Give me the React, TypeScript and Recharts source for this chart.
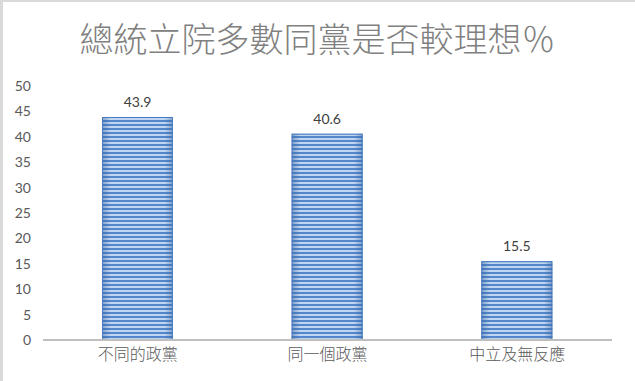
import { BarChart, Bar, XAxis, YAxis, LabelList } from "recharts";

const categories = ["不同的政黨", "同一個政黨", "中立及無反應"];
const percents = [43.9, 40.6, 15.5];
const yTicks = [0, 5, 10, 15, 20, 25, 30, 35, 40, 45, 50];

const data = categories.map((name, i) => ({ name, value: percents[i] }));

const AXIS_GREY = "#595959";

// striped bar with darker left/right edges
function StripedBar(props: any) {
  const { x, y, width, height } = props;
  if (!height || height <= 0) return null;
  return (
    <g>
      <rect x={x} y={y} width={width} height={height} fill="url(#hstripes)" />
      <rect x={x} y={y} width={width} height={height} fill="url(#edgeShade)" />
      <rect x={x + 0.5} y={y + 0.5} width={width - 1} height={height - 1} fill="none" stroke="#4a7dc2" strokeWidth={1} />
    </g>
  );
}

export default function App() {
  return (
    <div
      style={{
        position: "absolute",
        left: 0,
        top: 0,
        width: 635,
        height: 381,
        background: "#fff",
        borderTop: "2px solid #d9d9d9",
        borderLeft: "3px solid #d9d9d9",
        boxSizing: "border-box",
        overflow: "hidden",
      }}
    >
      <div
        style={{
          position: "absolute",
          left: -3,
          top: 13,
          width: 635,
          textAlign: "center",
          fontFamily: "'Noto Sans CJK TC', sans-serif",
          fontWeight: 300,
          fontSize: 34,
          color: "#808080",
          lineHeight: "46px",
        }}
      >
        總統立院多數同黨是否較理想％
      </div>
      <div style={{ position: "absolute", left: -3, top: -2 }}>
        <BarChart
          width={635}
          height={381}
          data={data}
          margin={{ top: 86, right: 23, left: 0, bottom: 11 }}
        >
          <defs>
            <pattern id="hstripes" width="4" height="4" patternUnits="userSpaceOnUse">
              <rect width="4" height="4" fill="#c0d5ef" />
              <rect width="4" height="2" fill="#5386cb" />
            </pattern>
            <linearGradient id="edgeShade" x1="0" y1="0" x2="1" y2="0">
              <stop offset="0" stopColor="#2f5f9e" stopOpacity={0.45} />
              <stop offset="0.12" stopColor="#2f5f9e" stopOpacity={0} />
              <stop offset="0.88" stopColor="#2f5f9e" stopOpacity={0} />
              <stop offset="1" stopColor="#2f5f9e" stopOpacity={0.45} />
            </linearGradient>
          </defs>
          <XAxis
            dataKey="name"
            height={30}
            tickLine={false}
            axisLine={{ stroke: "#bfbfbf", strokeWidth: 2 }}
            tick={{ fill: AXIS_GREY, fontSize: 16, fontWeight: 300, fontFamily: "'Noto Sans CJK TC', sans-serif" }}
            tickMargin={3}
          />
          <YAxis
            width={43}
            domain={[0, 50]}
            ticks={yTicks}
            interval={0}
            axisLine={false}
            tickLine={false}
            tickMargin={6}
            tick={{ fill: AXIS_GREY, fontSize: 14, fontFamily: "Lato, 'Open Sans', sans-serif" }}
          />
          <Bar dataKey="value" barSize={71} shape={<StripedBar />} isAnimationActive={false}>
            <LabelList
              dataKey="value"
              position="top"
              offset={10}
              fill="#404040"
              fontSize={14}
              fontFamily="Lato, 'Open Sans', sans-serif"
            />
          </Bar>
        </BarChart>
      </div>
    </div>
  );
}
